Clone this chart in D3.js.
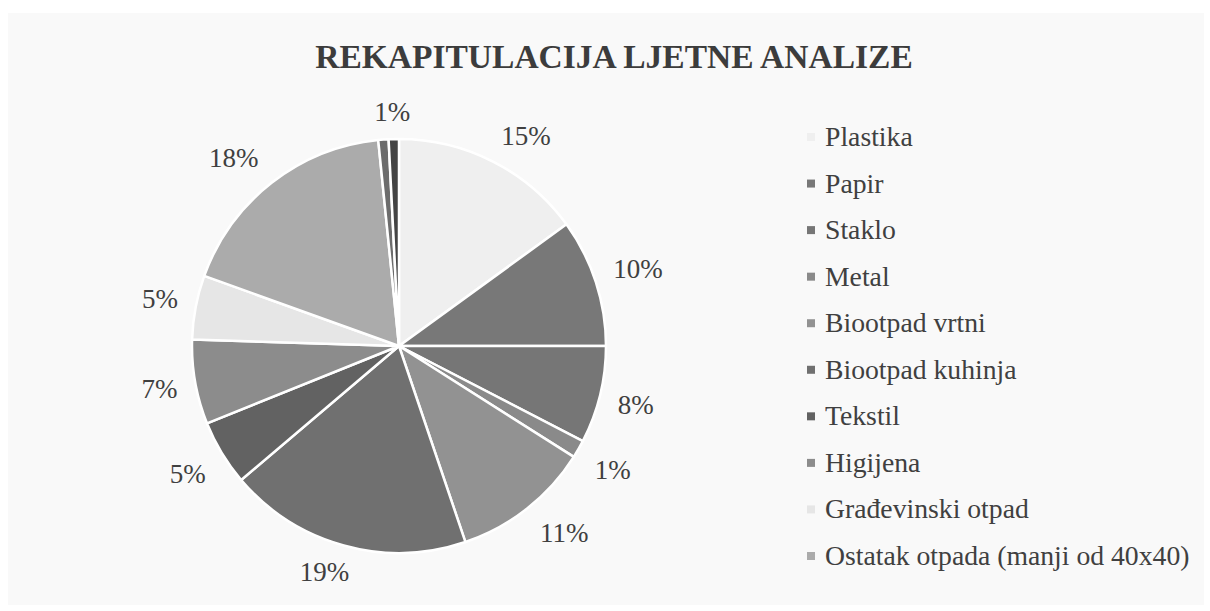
<!DOCTYPE html>
<html>
<head>
<meta charset="utf-8">
<script src="https://cdn.jsdelivr.net/npm/d3@7/dist/d3.min.js"></script>
<style>
  html, body { margin: 0; padding: 0; background: #ffffff; }
  svg { display: block; }
</style>
</head>
<body>
<script>
// ---- data ----
const title = "REKAPITULACIJA LJETNE ANALIZE";
const categories = ["Plastika", "Papir", "Staklo", "Metal", "Biootpad vrtni", "Biootpad kuhinja",
  "Tekstil", "Higijena", "Građevinski otpad", "Ostatak otpada (manji od 40x40)", "", ""];
const values = [15, 10, 7.6, 1.4, 10.8, 19, 5.1, 6.6, 5.0, 17.9, 0.8, 0.8];
const valueLabels = ["15%", "10%", "8%", "1%", "11%", "19%", "5%", "7%", "5%", "18%", "", "1%"];
const colors = ["#efefef", "#787878", "#767676", "#8a8a8a", "#929292", "#707070",
  "#626262", "#8c8c8c", "#e6e6e6", "#ababab", "#6c6c6c", "#444444"];

// ---- layout ----
const W = 1210, H = 611;
const cx = 399, cy = 346, R = 207, labelGap = 220;
const serif = "'Liberation Serif', 'Times New Roman', serif";

const svg = d3.select("body").append("svg").attr("width", W).attr("height", H);

svg.append("rect").attr("x", 8).attr("y", 13).attr("width", W - 14).attr("height", H - 19)
  .attr("fill", "#f9f9f9");

svg.append("text")
  .attr("x", 614).attr("y", 68)
  .attr("text-anchor", "middle")
  .attr("font-family", serif)
  .attr("font-weight", "bold")
  .attr("font-size", 33.5)
  .attr("fill", "#3c3c3c")
  .text(title);

const data = categories.map((c, i) => ({ name: c, value: values[i], label: valueLabels[i], color: colors[i] }));

const pie = d3.pie().value(d => d.value).sort(null);
const arcs = pie(data);
const arc = d3.arc().innerRadius(0).outerRadius(R);

const g = svg.append("g").attr("transform", `translate(${cx},${cy})`);

g.selectAll("path.slice").data(arcs).join("path")
  .attr("class", "slice")
  .attr("d", arc)
  .attr("fill", d => d.data.color)
  .attr("stroke", "#ffffff")
  .attr("stroke-width", 2.5)
  .attr("stroke-linejoin", "round");

// labels: text box placed just outside the pie, nearest corner touching the anchor point
const labels = g.selectAll("text.lbl").data(arcs.filter(d => d.data.label !== "")).join("text")
  .attr("class", "lbl")
  .attr("text-anchor", "middle")
  .attr("dominant-baseline", "central")
  .attr("font-family", serif)
  .attr("font-size", 27)
  .attr("fill", "#404040")
  .text(d => d.data.label);

const clamp = v => Math.max(-1, Math.min(1, v));
labels.each(function(d) {
  const bb = this.getBBox();
  const a = (d.startAngle + d.endAngle) / 2;
  const s = Math.sin(a), c = Math.cos(a);
  const x = labelGap * s + (bb.width / 2 + 5) * clamp(2 * s);
  const y = -labelGap * c - (bb.height / 2) * 0.95 * clamp(2 * c);
  d3.select(this).attr("transform", `translate(${x},${y})`);
});

// ---- legend ----
const legendData = data.filter(d => d.name !== "");
const ly = d3.scalePoint().domain(legendData.map(d => d.name)).range([146, 565]);
const lg = svg.append("g");
const rows = lg.selectAll("g.row").data(legendData).join("g")
  .attr("class", "row")
  .attr("transform", d => `translate(807,${ly(d.name)})`);
rows.append("rect")
  .attr("x", 0).attr("y", -13).attr("width", 8).attr("height", 8)
  .attr("fill", d => d.color);
rows.append("text")
  .attr("x", 18).attr("y", 0)
  .attr("font-family", serif)
  .attr("font-size", 27.7)
  .attr("fill", "#404040")
  .text(d => d.name);
</script>
</body>
</html>
